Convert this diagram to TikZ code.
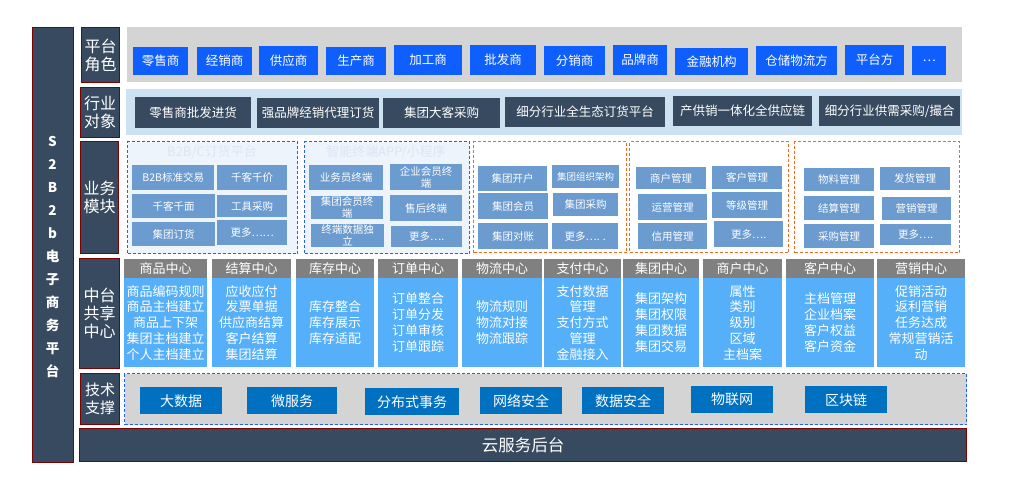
\documentclass[tikz,border=0pt]{standalone}
\usepackage{fontspec}
\setmainfont{Noto Sans CJK SC}
\definecolor{slate}{HTML}{374A5F}
\definecolor{maroonb}{HTML}{7F0000}
\definecolor{roleblue}{HTML}{0F5FFE}
\definecolor{bggray}{HTML}{D4D4D4}
\definecolor{bglight}{HTML}{CCE2F0}
\definecolor{modblue}{HTML}{6B9BCF}
\definecolor{dashblue}{HTML}{1F5FFF}
\definecolor{dashorange}{HTML}{F26B1D}
\definecolor{modfill}{HTML}{EEF4FC}
\definecolor{titlecol}{HTML}{DCE6F4}
\definecolor{hdrgray}{HTML}{808080}
\definecolor{bodyblue}{HTML}{55AFF9}
\definecolor{techblue}{HTML}{0070C0}
\newcommand\mybox[7]{\node[#6,anchor=north west,inner sep=0pt,minimum width={(#4)-(#2)},minimum height={(#5)-(#3)}] (#1) at (#2,#3) {#7};}
\begin{document}
\begin{tikzpicture}[x=1pt,y=-1pt,
  darkbox/.style={fill=slate,draw=maroonb,line width=1pt,text=white},
  lbl/.style={darkbox,font=\fontsize{16}{18}\selectfont,align=center},
  role/.style={fill=roleblue,text=white,font=\fontsize{12.5}{14}\selectfont},
  ind/.style={fill=slate,text=white,font=\fontsize{12.5}{14}\selectfont},
  modbox/.style={fill=modblue,text=white,font=\fontsize{10.5}{12}\selectfont,align=center},
  bluegrp/.style={draw=dashblue,dash pattern=on 3pt off 2pt,line width=1.1pt,fill=modfill},
  oragrp/.style={draw=dashorange,dash pattern=on 3pt off 2pt,line width=1.1pt,fill=white},
  grptitle/.style={text=titlecol,font=\fontsize{13}{15}\selectfont},
  hdr/.style={fill=hdrgray,text=white,font=\fontsize{13}{15}\selectfont},
  body/.style={fill=bodyblue,text=white,font=\fontsize{13}{15.8}\selectfont,align=center},
  tech/.style={fill=techblue,text=white,font=\fontsize{14}{16}\selectfont},
  bgpanel/.style={fill=#1}
]
\useasboundingbox (0,0) rectangle (1013,481);
% left bar
\mybox{mainbar}{32}{27}{73}{462}{darkbox}{}
\node[text=white,font=\fontsize{13.5}{23}\selectfont\bfseries,align=center] (mainlbl) at (52.5,257) {S\\2\\B\\2\\b\\电\\子\\商\\务\\平\\台};
% row labels
\mybox{l1}{81}{27}{119}{82}{lbl}{平台\\角色}
\mybox{l2}{80}{87}{119}{137}{lbl}{行业\\对象}
\mybox{l3}{80}{141}{118}{253}{lbl}{业务\\模块}
\mybox{l4}{79}{258}{119}{368}{lbl}{中台\\共享\\中心}
\mybox{l5}{80}{373}{119}{424}{lbl,font=\fontsize{15}{18}\selectfont}{技术\\支撑}
\mybox{cloud}{79}{428}{966}{461}{darkbox,font=\fontsize{16.5}{18}\selectfont}{云服务后台}
% platform roles
\mybox{rolebg}{127}{27}{962}{82}{bgpanel=bggray}{}
\mybox{p1}{133}{47}{188}{75}{role}{零售商}
\mybox{p2}{197}{47}{252}{75}{role}{经销商}
\mybox{p3}{259}{46}{318}{75}{role}{供应商}
\mybox{p4}{326}{47}{386}{75}{role}{生产商}
\mybox{p5}{394}{45}{462}{75}{role}{加工商}
\mybox{p6}{470}{45}{536}{75}{role}{批发商}
\mybox{p7}{544}{46}{605}{75}{role}{分销商}
\mybox{p8}{613}{45}{667}{75}{role}{品牌商}
\mybox{p9}{675}{48}{748}{75}{role}{金融机构}
\mybox{p10}{756}{46}{837}{75}{role}{仓储物流方}
\mybox{p11}{845}{45}{904}{75}{role}{平台方}
\mybox{p12}{912}{46}{946}{75}{role}{…}
% industry
\mybox{indbg}{126}{89}{962}{135}{bgpanel=bglight}{}
\mybox{i1}{135}{97}{251}{128}{ind}{零售商批发进货}
\mybox{i2}{257}{98}{379}{128}{ind}{强品牌经销代理订货}
\mybox{i3}{383}{98}{500}{128}{ind}{集团大客采购}
\mybox{i4}{505}{97}{665}{127}{ind}{细分行业全生态订货平台}
\mybox{i5}{673}{96}{812}{126}{ind}{产供销一体化全供应链}
\mybox{i6}{819}{96}{960}{126}{ind}{细分行业供需采购/撮合}
% business module groups
\mybox{g1}{127}{141}{297}{253}{bluegrp}{}
\mybox{g2}{304}{141}{469}{253}{bluegrp}{}
\mybox{g3}{473}{141}{626}{252}{oragrp}{}
\mybox{g4}{629}{141}{788}{252}{oragrp}{}
\mybox{g5}{794}{141}{959}{252}{oragrp}{}
\node[grptitle] (g1t) at (212,152) {B2B/C订货平台};
\node[grptitle] (g2t) at (386,152) {智能终端APP/小程序};
% group 1
\mybox{a1}{132}{165}{214}{190}{modbox}{B2B标准交易}
\mybox{a2}{217}{165}{287}{190}{modbox}{千客千价}
\mybox{a3}{132}{194}{215}{218}{modbox}{千客千面}
\mybox{a4}{217}{195}{287}{217}{modbox}{工具采购}
\mybox{a5}{132}{222}{215}{246}{modbox}{集团订货}
\mybox{a6}{217}{220}{287}{245}{modbox}{更多……}
% group 2
\mybox{b1}{309}{165}{383}{190}{modbox}{业务员终端}
\mybox{b2}{390}{164}{462}{190}{modbox}{企业会员终\\端}
\mybox{b3}{311}{196}{383}{219}{modbox}{集团会员终\\端}
\mybox{b4}{390}{195}{462}{221}{modbox}{售后终端}
\mybox{b5}{311}{224}{384}{247}{modbox}{终端数据独\\立}
\mybox{b6}{391}{226}{462}{247}{modbox}{更多….}
% group 3
\mybox{c1}{478}{166}{547}{191}{modbox}{集团开户}
\mybox{c2}{552}{165}{619}{188}{modbox,font=\fontsize{9.5}{11}\selectfont}{集团组织架构}
\mybox{c3}{478}{193}{548}{219}{modbox}{集团会员}
\mybox{c4}{553}{193}{618}{216}{modbox}{集团采购}
\mybox{c5}{478}{223}{548}{249}{modbox}{集团对账}
\mybox{c6}{552}{223}{618}{249}{modbox}{更多…. .}
% group 4
\mybox{d1}{636}{167}{706}{189}{modbox}{商户管理}
\mybox{d2}{712}{166}{782}{189}{modbox}{客户管理}
\mybox{d3}{638}{194}{707}{220}{modbox}{运营管理}
\mybox{d4}{712}{192}{782}{218}{modbox}{等级管理}
\mybox{d5}{638}{223}{707}{249}{modbox}{信用管理}
\mybox{d6}{714}{221}{783}{247}{modbox}{更多….}
% group 5
\mybox{e1}{804}{168}{874}{191}{modbox}{物料管理}
\mybox{e2}{880}{167}{950}{190}{modbox}{发货管理}
\mybox{e3}{804}{196}{874}{220}{modbox}{结算管理}
\mybox{e4}{882}{197}{951}{220}{modbox}{营销管理}
\mybox{e5}{804}{224}{874}{248}{modbox}{采购管理}
\mybox{e6}{880}{224}{951}{245}{modbox}{更多….}
% centers
\mybox{h1}{124}{259}{207}{278}{hdr}{商品中心}
\mybox{h2}{212}{259}{291}{278}{hdr}{结算中心}
\mybox{h3}{296}{259}{374}{278}{hdr}{库存中心}
\mybox{h4}{378}{259}{458}{278}{hdr}{订单中心}
\mybox{h5}{462}{259}{542}{278}{hdr}{物流中心}
\mybox{h6}{544}{259}{621}{278}{hdr}{支付中心}
\mybox{h7}{623}{259}{699}{278}{hdr}{集团中心}
\mybox{h8}{703}{259}{782}{278}{hdr}{商户中心}
\mybox{h9}{786}{259}{874}{278}{hdr}{客户中心}
\mybox{h10}{877}{259}{965}{278}{hdr}{营销中心}
\mybox{m1}{124}{278}{207}{367}{body}{商品编码规则\\商品主档建立\\商品上下架\\集团主档建立\\个人主档建立}
\mybox{m2}{212}{278}{291}{367}{body}{应收应付\\发票单据\\供应商结算\\客户结算\\集团结算}
\mybox{m3}{296}{278}{374}{367}{body}{库存整合\\库存展示\\库存适配}
\mybox{m4}{378}{278}{458}{367}{body}{订单整合\\订单分发\\订单审核\\订单跟踪}
\mybox{m5}{462}{278}{542}{367}{body}{物流规则\\物流对接\\物流跟踪}
\mybox{m6}{544}{278}{621}{367}{body}{支付数据\\管理\\支付方式\\管理\\金融接入}
\mybox{m7}{623}{278}{699}{367}{body}{集团架构\\集团权限\\集团数据\\集团交易}
\mybox{m8}{703}{278}{782}{367}{body}{属性\\类别\\级别\\区域\\主档案}
\mybox{m9}{786}{278}{874}{367}{body}{主档管理\\企业档案\\客户权益\\客户资金}
\mybox{m10}{877}{278}{965}{367}{body}{促销活动\\返利营销\\任务达成\\常规营销活\\动}
% tech
\mybox{techbg}{124}{373}{966}{424}{bgpanel=bggray,draw=dashblue,dash pattern=on 3pt off 2pt,line width=1.1pt}{}
\mybox{t1}{140}{387}{222}{414}{tech}{大数据}
\mybox{t2}{247}{387}{337}{414}{tech}{微服务}
\mybox{t3}{365}{388}{459}{415}{tech}{分布式事务}
\mybox{t4}{480}{387}{562}{414}{tech}{网络安全}
\mybox{t5}{582}{387}{664}{414}{tech}{数据安全}
\mybox{t6}{691}{386}{773}{413}{tech}{物联网}
\mybox{t7}{805}{386}{887}{413}{tech}{区块链}
\end{tikzpicture}
\end{document}
